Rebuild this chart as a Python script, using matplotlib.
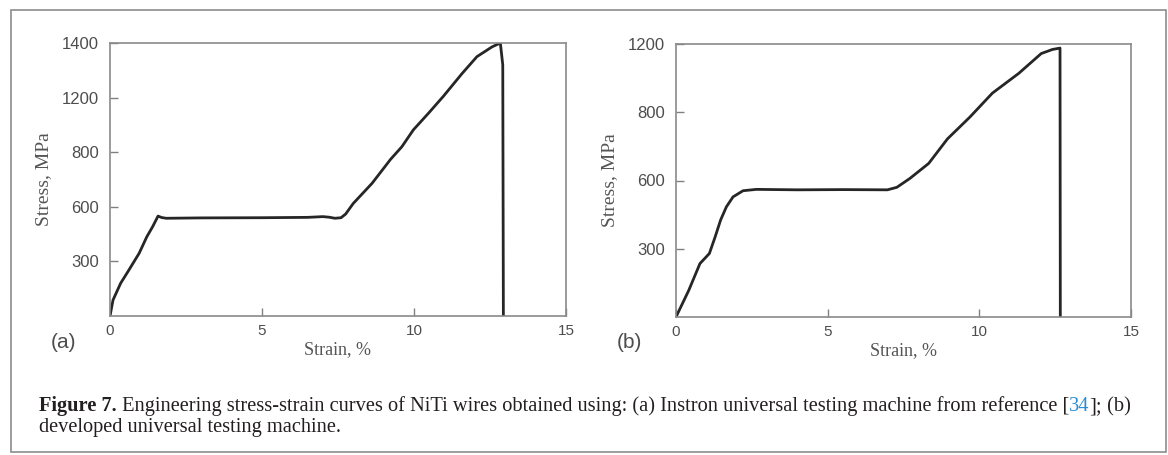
import numpy as np
import matplotlib
matplotlib.use('Agg')
import matplotlib.pyplot as plt
from matplotlib import font_manager
from matplotlib.patches import Rectangle

# panel (a): Instron machine, reference [34]
strain_a = [0, 0.1, 0.35, 0.59, 0.96, 1.21, 1.40, 1.58, 1.70, 1.85, 3.0, 5.0, 6.5,
            7.0, 7.2, 7.4, 7.6, 7.75, 8.0, 8.62, 9.23, 9.6, 9.98, 10.47, 10.96,
            11.58, 12.07, 12.57, 12.84, 12.92, 12.94]
stress_a = [0, 88, 180, 244, 345, 435, 490, 549, 541, 537, 539, 540, 542,
            546, 543, 537, 540, 560, 612, 686, 774, 840, 964, 1084, 1204,
            1288, 1350, 1386, 1400, 1320, 0]
yticks_a = [0, 300, 600, 800, 1200, 1400]

# panel (b): developed machine
strain_b = [0, 0.42, 0.79, 1.10, 1.29, 1.47, 1.66, 1.88, 2.21, 2.65, 4.0, 5.5,
            6.97, 7.28, 7.71, 8.33, 8.95, 9.69, 10.43, 11.30, 12.04, 12.41,
            12.66, 12.67]
stress_b = [0, 117, 235, 279, 352, 426, 484, 528, 555, 561, 559, 560,
            559, 570, 606, 650, 722, 786, 912, 1028, 1144, 1168,
            1176, 0]
yticks_b = [0, 300, 600, 800, 1200]

xticks = [0, 5, 10, 15]

W, H = 1168, 455
names = {f.name for f in font_manager.fontManager.ttflist}
sans = 'Liberation Sans' if 'Liberation Sans' in names else 'DejaVu Sans'
narrow = 'Liberation Sans Narrow' if 'Liberation Sans Narrow' in names else sans
serif = 'Liberation Serif' if 'Liberation Serif' in names else 'DejaVu Serif'

fig = plt.figure(figsize=(W / 100, H / 100), dpi=100)


def px_box(l, t, r, b):
    return [l / W, 1 - b / H, (r - l) / W, (b - t) / H]


def panel(box, x, y, yticks, tag):
    ax = fig.add_axes(px_box(*box))
    levels = np.arange(len(yticks))
    # the original figure spaces its stress ticks evenly
    ax.set_yscale('function', functions=(lambda v: np.interp(v, yticks, levels),
                                         lambda v: np.interp(v, levels, yticks)))
    ax.plot(x, y, color='#262626', linewidth=2.0, solid_joinstyle='round')
    ax.set_xlim(0, 15)
    ax.set_ylim(0, yticks[-1])
    ax.set_xticks(xticks)
    ax.set_xticklabels([str(t) for t in xticks], fontfamily=narrow)
    ax.set_yticks(yticks[1:])
    ax.set_yticklabels([str(t) for t in yticks[1:]], fontfamily=sans)
    ax.tick_params(direction='in', length=6, width=1, color='#808080',
                   labelcolor='#4d4d4d')
    ax.tick_params(axis='x', labelsize=11, pad=6)
    ax.tick_params(axis='y', labelsize=12, pad=8)
    for s in ax.spines.values():
        s.set_color('#8a8a8a')
        s.set_linewidth(1.2)
    ax.set_xlabel('Strain, %', fontfamily=serif, fontsize=13, color='#555555', labelpad=2)
    ax.set_ylabel('Stress, MPa', fontfamily=serif, fontsize=14, color='#555555', labelpad=7)
    fig.text((box[0] - 47) / W, 1 - 343 / H, tag, fontfamily=sans, fontsize=15,
             color='#4d4d4d', ha='center', va='center')
    return ax


panel((110, 43, 566, 316), strain_a, stress_a, yticks_a, '(a)')
panel((676, 44, 1131, 317), strain_b, stress_b, yticks_b, '(b)')

# outer frame
fig.patches.append(Rectangle((11 / W, 1 - 452 / H), 1155 / W, 442 / H,
                             transform=fig.transFigure, fill=False,
                             edgecolor='#8c8c8c', linewidth=1.2))

# caption, built from pieces so that the bold and blue parts sit inline
line1 = [('Figure 7.', 'bold', '#231f20'),
         (' Engineering stress-strain curves of NiTi wires obtained using: (a) Instron universal testing machine from reference [', 'normal', '#231f20'),
         ('34', 'normal', '#2a8dd4'),
         ('];', 'normal', '#231f20'),
         (' (b)', 'normal', '#231f20')]
line2 = [('developed universal testing machine.', 'normal', '#231f20')]

renderer = fig.canvas.get_renderer()


def write_line(pieces, x0, y, size):
    x = x0
    items = []
    for txt, weight, col in pieces:
        t = fig.text(x / W, 1 - y / H, txt, fontfamily=serif, fontsize=size,
                     fontweight=weight, color=col, va='baseline', ha='left')
        x = t.get_window_extent(renderer).x1
        items.append(t)
    return x, items


# fit the first line to the width of the original caption
end, items = write_line(line1, 39, 411, 13)
size = 13 * (1127 - 39) / (end - 39)
for t in items:
    t.remove()
write_line(line1, 39, 411, size)
write_line(line2, 39, 432, size)

fig.savefig('out.png', dpi=100)
